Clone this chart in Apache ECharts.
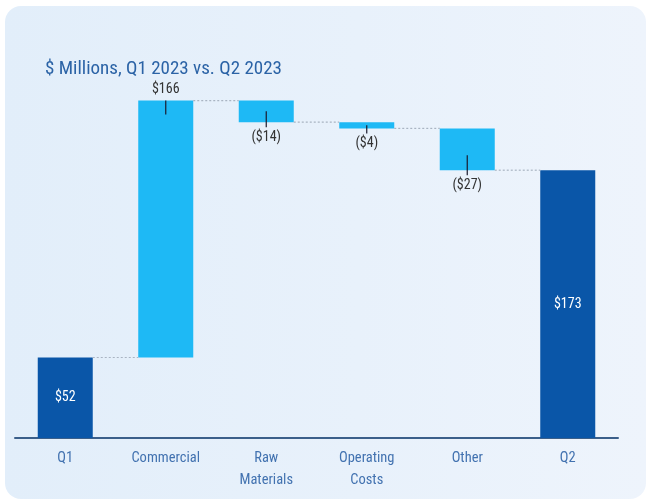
<!DOCTYPE html>
<html>
<head>
<meta charset="utf-8">
<style>
  html, body { margin: 0; padding: 0; background: #ffffff; }
  #card {
    position: absolute; left: 5px; top: 6px; width: 641px; height: 493px;
    border-radius: 16px;
    background: linear-gradient(90deg, #e2eefa 0%, #e8f1fb 55%, #eef4fc 100%);
  }
  #chart { position: absolute; left: 0; top: 0; width: 649px; height: 504px; }
</style>
<script src="https://cdn.jsdelivr.net/npm/echarts@6/dist/echarts.min.js"></script>
</head>
<body>
<div id="card"></div>
<div id="chart"></div>
<script>
// Waterfall: opening quarter, the drivers of change, closing quarter
const categories = ['Q1', 'Commercial', 'Raw\nMaterials', 'Operating\nCosts', 'Other', 'Q2'];
const changes = [52, 166, -14, -4, -27, 173];
const isTotal = [true, false, false, false, false, true];
const valueLabels = ['$52', '$166', '($14)', '($4)', '($27)', '$173'];

const FONT = 'Roboto, "Liberation Sans", sans-serif';
const STRETCH = 'condensed';
const DARK = '#0a56a8';
const LIGHT = '#1eb9f5';

// Build invisible bases and visible heights for the floating bars
const bases = [];
const heights = [];
const levelsAfter = [];
let running = 0;
changes.forEach((v, i) => {
  if (isTotal[i]) {
    bases.push(0);
    heights.push(v);
    running = v;
  } else {
    const start = running;
    const end = running + v;
    bases.push(Math.min(start, end));
    heights.push(Math.abs(v));
    running = end;
  }
  levelsAfter.push(running);
});

const chart = echarts.init(document.getElementById('chart'), null, { renderer: 'canvas' });
const BAR_W = 55;

chart.setOption({
  backgroundColor: 'transparent',
  animation: false,
  title: {
    text: '$ Millions, Q1 2023 vs. Q2 2023',
    left: 40, top: 55,
    textStyle: { fontFamily: FONT, fontSize: 19, fontWeight: STRETCH, color: '#2b63a6' }
  },
  grid: { left: 15, right: 31, top: 51, bottom: 66 },
  xAxis: {
    type: 'category',
    data: categories,
    axisLine: { lineStyle: { color: '#3b5f8a', width: 2 } },
    axisTick: { show: false },
    axisLabel: {
      fontFamily: FONT, fontSize: 14.5, fontWeight: STRETCH, color: '#4272b0',
      lineHeight: 22, margin: 9
    }
  },
  yAxis: {
    type: 'value', min: 0, max: 250,
    show: false, splitLine: { show: false }
  },
  series: [
    {
      type: 'bar', stack: 'w', barWidth: BAR_W,
      itemStyle: { color: 'transparent' },
      data: bases, silent: true
    },
    {
      type: 'bar', stack: 'w', barWidth: BAR_W,
      data: heights.map((h, i) => {
        const d = { value: h, itemStyle: { color: isTotal[i] ? DARK : LIGHT } };
        let pos;
        if (isTotal[i]) pos = 'inside';
        else if (changes[i] >= 0) pos = 'top';
        else pos = 'bottom';
        d.label = {
          show: true,
          position: pos,
          distance: pos === 'top' ? 4 : 8,
          formatter: valueLabels[i],
          fontFamily: FONT,
          fontSize: 14,
          fontWeight: STRETCH,
          color: isTotal[i] ? '#ffffff' : '#333333'
        };
        return d;
      })
    },
    {
      // connectors between bars and small tick marks on the change bars
      type: 'custom',
      silent: true,
      data: changes.map((v, i) => [i, v]),
      renderItem: function (params, api) {
        const i = api.value(0);
        const children = [];
        const half = BAR_W / 2;
        const x = api.coord([i, 0])[0];
        if (i < changes.length - 1) {
          const level = levelsAfter[i];
          const p = api.coord([i, level]);
          const q = api.coord([i + 1, level]);
          children.push({
            type: 'line',
            shape: { x1: p[0] + half, y1: p[1], x2: q[0] - half, y2: q[1] },
            style: { stroke: '#a9b4c2', lineWidth: 1.2, lineDash: [2, 2] }
          });
        }
        if (!isTotal[i]) {
          const top = api.coord([i, bases[i] + heights[i]])[1];
          const bottom = api.coord([i, bases[i]])[1];
          let y1, y2;
          if (changes[i] >= 0) {
            y1 = top; y2 = top + 14;
          } else {
            y1 = bottom - Math.min((bottom - top) / 2, 15);
            y2 = bottom + 5;
          }
          children.push({
            type: 'line',
            shape: { x1: x, y1: y1, x2: x, y2: y2 },
            style: { stroke: '#1a1a2e', lineWidth: 1.2 }
          });
        }
        return { type: 'group', children: children };
      },
      z: 5
    }
  ]
});
</script>
</body>
</html>
